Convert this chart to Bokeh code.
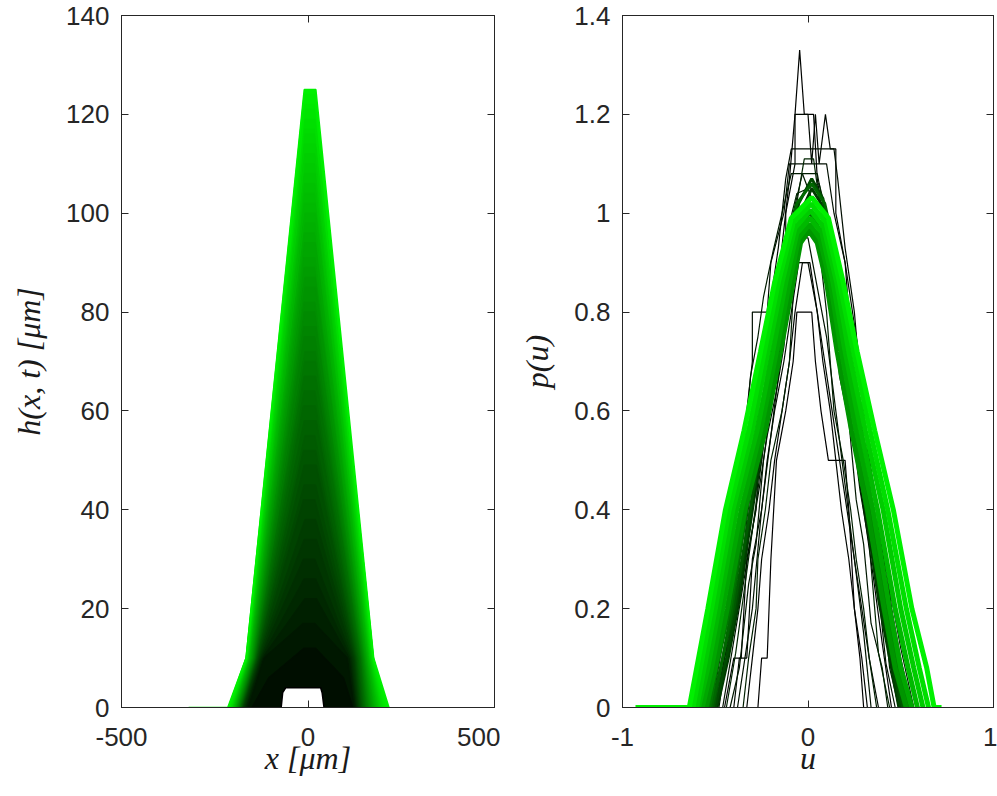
from bokeh.plotting import figure
from bokeh.models import FixedTicker, LinearAxis, Range1d
from bokeh.layouts import row
from bokeh.embed import file_html
from bokeh.resources import INLINE

# ---------------- Left panel: h(x,t) profiles, one per time (black -> green)
peak_h = [4, 12, 17, 22, 26, 30, 34, 38, 42, 45, 49, 52, 55, 58, 61, 64, 67, 70, 72, 75,
          77, 80, 82, 85, 87, 89, 91, 94, 96, 98, 100, 102, 104, 106, 108, 110, 112, 114,
          116, 117, 119, 121, 122, 124, 125]
knee_h = [3, 6] + [10] * 43
foot_l = [-72, -150, -160, -165, -168, -170, -172, -174, -176, -177, -178, -179, -180, -181,
          -182, -183, -184, -185, -186, -187, -188, -189, -190, -191, -192, -193, -194, -195,
          -196, -197, -198, -199, -200, -201, -202, -203, -204, -205, -206, -207, -208, -210,
          -211, -213, -215]
knee_l = [-68, -105, -118, -122, -125, -128, -130, -132, -134, -136, -137, -139, -140, -141,
          -142, -143, -144, -145, -146, -147, -148, -149, -150, -151, -152, -153, -154, -155,
          -156, -157, -158, -159, -160, -160, -161, -161, -162, -163, -163, -164, -164, -165,
          -165, -166, -166]
top_l = [-60, -10, -12, -8, -10, -12, -10, -8, -12, -10, -10, -12, -8, -10, -12, -10, -10,
         -12, -8, -10, -12, -10, -10, -12, -8, -10, -12, -10, -10, -12, -8, -10, -12, -10,
         -10, -12, -8, -10, -12, -10, -10, -12, -8, -10, -10]
top_r = [34, 20, 18, 22, 20, 18, 22, 20, 18, 20, 22, 20, 18, 22, 20, 18, 20, 22, 20, 18,
         22, 20, 18, 20, 22, 20, 18, 22, 20, 18, 20, 22, 20, 18, 22, 20, 18, 20, 22, 20,
         18, 22, 20, 18, 21]
knee_r = [38, 95, 105, 110, 114, 117, 120, 123, 126, 128, 130, 132, 134, 136, 138, 140, 142,
          144, 145, 147, 148, 150, 151, 153, 154, 155, 157, 158, 160, 161, 162, 164, 165,
          166, 167, 168, 169, 170, 171, 172, 173, 174, 175, 175, 176]
foot_r = [43, 120, 124, 127, 130, 132, 134, 136, 138, 140, 142, 144, 146, 148, 150, 152, 154,
          156, 158, 160, 162, 164, 166, 168, 170, 172, 174, 176, 178, 180, 182, 184, 186,
          188, 190, 192, 194, 196, 198, 200, 202, 205, 208, 212, 217]
flat_start_x = -320   # zero level drawn by the last profile

# ---------------- Right panel: rescaled profiles p(u)
u_black = [
    [-0.27, -0.25, -0.22, -0.2, -0.17, -0.12, -0.08, -0.06, 0.02, 0.04, 0.07, 0.11, 0.2, 0.22, 0.25, 0.28, 0.3],
    [-0.45, -0.4, -0.36, -0.33, -0.28, -0.25, -0.2, -0.15, -0.1, -0.07, -0.045, -0.02, 0.03, 0.05, 0.1, 0.14, 0.2, 0.25, 0.3, 0.35, 0.4, 0.45],
    [-0.33, -0.3, -0.27, -0.25, -0.21, -0.18, -0.14, -0.1, -0.07, -0.03, 0.01, 0.05, 0.08, 0.12, 0.15, 0.18, 0.22, 0.25, 0.29, 0.32],
    [-0.5, -0.45, -0.38, -0.3, -0.26, -0.2, -0.16, -0.12, -0.12, -0.07, -0.07, 0.0, 0.02, 0.04, 0.06, 0.094, 0.12, 0.15, 0.15, 0.2, 0.22, 0.27, 0.32, 0.35, 0.38, 0.42, 0.48, 0.52],
    [-0.4, -0.37, -0.33, -0.3, -0.25, -0.22, -0.18, -0.13, -0.09, -0.05, 0.0, 0.05, 0.09, 0.13, 0.17, 0.21, 0.25, 0.29, 0.33, 0.38],
    [-0.52, -0.46, -0.4, -0.33, -0.3, -0.25, -0.21, -0.16, -0.12, -0.09, 0.14, 0.16, 0.2, 0.25, 0.28, 0.32, 0.37, 0.42, 0.48, 0.55],
    [-0.56, -0.5, -0.46, -0.4, -0.36, -0.33, -0.3, -0.3, -0.22, -0.2, -0.13, -0.1, 0.1, 0.14, 0.2, 0.24, 0.28, 0.3, 0.33, 0.38, 0.42, 0.45, 0.5, 0.56],
    [-0.38, -0.34, -0.3, -0.25, -0.2, -0.15, -0.1, -0.05, 0.0, 0.05, 0.1, 0.15, 0.2, 0.25, 0.3, 0.34],
    [-0.46, -0.42, -0.38, -0.34, -0.3, -0.26, -0.22, -0.17, -0.13, -0.08, -0.02, 0.04, 0.1, 0.14, 0.19, 0.23, 0.28, 0.32, 0.37, 0.42, 0.47],
    [-0.42, -0.37, -0.32, -0.28, -0.24, -0.18, -0.14, -0.1, -0.04, 0.04, 0.08, 0.13, 0.17, 0.22, 0.26, 0.3, 0.34, 0.4, 0.43],
    [-0.58, -0.52, -0.47, -0.43, -0.38, -0.35, -0.31, -0.27, -0.24, -0.19, -0.14, -0.09, -0.03, 0.05, 0.11, 0.16, 0.21, 0.25, 0.29, 0.34, 0.39, 0.44, 0.5, 0.57],
    [-0.48, -0.42, -0.37, -0.33, -0.27, -0.23, -0.18, -0.14, -0.08, -0.03, 0.05, 0.09, 0.14, 0.18, 0.22, 0.27, 0.31, 0.36, 0.4, 0.44, 0.49],
    [-0.35, -0.32, -0.28, -0.27, -0.23, -0.2, -0.14, -0.1, -0.07, -0.04, 0.04, 0.07, 0.1, 0.14, 0.19, 0.23, 0.26, 0.3, 0.33, 0.37],
    [-0.5, -0.45, -0.4, -0.35, -0.3, -0.25, -0.22, -0.16, -0.11, -0.06, -0.01, 0.04, 0.09, 0.14, 0.18, 0.22, 0.27, 0.32, 0.37, 0.42, 0.47, 0.51],
    [-0.44, -0.39, -0.35, -0.31, -0.27, -0.23, -0.19, -0.15, -0.11, -0.07, -0.02, 0.03, 0.07, 0.11, 0.15, 0.2, 0.24, 0.28, 0.33, 0.38, 0.44],
    [-0.54, -0.48, -0.42, -0.36, -0.31, -0.26, -0.22, -0.17, -0.12, -0.06, 0.06, 0.12, 0.17, 0.23, 0.28, 0.33, 0.38, 0.44, 0.5, 0.57],
]
p_black = [
    [0, 0.1, 0.1, 0.3, 0.5, 0.6, 0.7, 0.8, 0.8, 0.7, 0.6, 0.5, 0.5, 0.4, 0.2, 0.1, 0],
    [0, 0.1, 0.1, 0.3, 0.4, 0.6, 0.7, 0.9, 1.07, 1.2, 1.33, 1.2, 1.2, 1.07, 0.93, 0.8, 0.67, 0.53, 0.4, 0.27, 0.13, 0],
    [0, 0.1, 0.2, 0.3, 0.4, 0.5, 0.6, 0.7, 0.8, 0.9, 0.9, 0.8, 0.7, 0.6, 0.5, 0.4, 0.3, 0.2, 0.1, 0],
    [0, 0.1, 0.2, 0.4, 0.5, 0.7, 0.8, 0.9, 1.0, 1.1, 1.2, 1.2, 1.1, 1.2, 1.1, 1.2, 1.13, 1.13, 1.0, 0.9, 0.8, 0.6, 0.5, 0.4, 0.3, 0.2, 0.1, 0],
    [0, 0.1, 0.1, 0.3, 0.4, 0.5, 0.6, 0.7, 0.8, 0.9, 0.9, 0.8, 0.7, 0.6, 0.5, 0.4, 0.3, 0.2, 0.1, 0],
    [0, 0.13, 0.27, 0.4, 0.53, 0.67, 0.8, 0.93, 1.07, 1.13, 1.13, 1.07, 0.93, 0.8, 0.67, 0.53, 0.4, 0.27, 0.13, 0],
    [0, 0.1, 0.2, 0.4, 0.5, 0.6, 0.7, 0.8, 0.8, 0.9, 1.0, 1.1, 1.1, 1.0, 0.9, 0.8, 0.7, 0.6, 0.5, 0.4, 0.3, 0.2, 0.1, 0],
    [0, 0.1, 0.2, 0.4, 0.55, 0.7, 0.85, 0.95, 0.95, 0.85, 0.75, 0.6, 0.45, 0.3, 0.15, 0],
    [0, 0.09, 0.18, 0.27, 0.36, 0.45, 0.55, 0.64, 0.73, 0.91, 1.0, 1.0, 0.91, 0.82, 0.73, 0.64, 0.45, 0.36, 0.27, 0.09, 0],
    [0, 0.08, 0.25, 0.33, 0.5, 0.67, 0.75, 0.92, 1.0, 1.0, 0.92, 0.83, 0.67, 0.58, 0.42, 0.33, 0.17, 0.08, 0],
    [0, 0.08, 0.17, 0.25, 0.42, 0.5, 0.67, 0.75, 0.83, 0.92, 1.0, 1.08, 1.08, 1.0, 0.92, 0.83, 0.75, 0.67, 0.58, 0.42, 0.33, 0.17, 0.08, 0],
    [0, 0.15, 0.23, 0.38, 0.54, 0.62, 0.77, 0.92, 1.0, 1.08, 1.08, 1.0, 0.92, 0.85, 0.69, 0.54, 0.46, 0.31, 0.23, 0.08, 0],
    [0, 0.1, 0.2, 0.3, 0.4, 0.5, 0.6, 0.7, 0.9, 1.0, 1.0, 0.9, 0.8, 0.6, 0.5, 0.4, 0.3, 0.2, 0.1, 0],
    [0, 0.1, 0.2, 0.3, 0.4, 0.5, 0.6, 0.7, 0.8, 0.9, 1.0, 1.0, 0.9, 0.9, 0.8, 0.7, 0.6, 0.5, 0.4, 0.2, 0.1, 0],
    [0, 0.11, 0.22, 0.33, 0.44, 0.56, 0.67, 0.78, 0.89, 1.0, 1.11, 1.11, 1.0, 0.89, 0.78, 0.67, 0.56, 0.44, 0.33, 0.11, 0],
    [0, 0.1, 0.2, 0.35, 0.5, 0.62, 0.74, 0.86, 0.95, 1.04, 1.06, 0.97, 0.87, 0.74, 0.62, 0.5, 0.37, 0.24, 0.12, 0],
]
u_dark = [
    [-0.49, -0.43, -0.37, -0.3, -0.22, -0.15, -0.09, -0.04, 0.02, 0.07, 0.12, 0.18, 0.24, 0.31, 0.38, 0.44, 0.49],
    [-0.5, -0.44, -0.39, -0.31, -0.23, -0.16, -0.1, -0.05, 0.02, 0.08, 0.13, 0.19, 0.25, 0.32, 0.4, 0.45, 0.5],
    [-0.51, -0.46, -0.4, -0.32, -0.24, -0.17, -0.1, -0.04, 0.01, 0.06, 0.12, 0.19, 0.26, 0.33, 0.41, 0.46, 0.51],
    [-0.52, -0.46, -0.41, -0.33, -0.25, -0.18, -0.12, -0.06, 0.02, 0.09, 0.15, 0.21, 0.27, 0.34, 0.42, 0.47, 0.52],
    [-0.53, -0.48, -0.42, -0.34, -0.26, -0.19, -0.12, -0.05, 0.01, 0.07, 0.13, 0.2, 0.27, 0.34, 0.42, 0.48, 0.53],
    [-0.54, -0.49, -0.43, -0.35, -0.27, -0.19, -0.11, -0.04, 0.0, 0.05, 0.12, 0.19, 0.26, 0.34, 0.42, 0.48, 0.54],
]
p_dark = [
    [0, 0.1, 0.22, 0.4, 0.6, 0.77, 0.9, 1.0, 1.05, 1.02, 0.93, 0.78, 0.6, 0.4, 0.22, 0.1, 0],
    [0, 0.1, 0.2, 0.4, 0.6, 0.78, 0.92, 1.02, 1.07, 1.03, 0.93, 0.78, 0.6, 0.4, 0.2, 0.1, 0],
    [0, 0.1, 0.2, 0.38, 0.57, 0.74, 0.88, 0.97, 1.0, 0.97, 0.89, 0.74, 0.57, 0.38, 0.2, 0.1, 0],
    [0, 0.1, 0.2, 0.4, 0.6, 0.78, 0.92, 1.02, 1.06, 1.02, 0.92, 0.78, 0.6, 0.4, 0.2, 0.1, 0],
    [0, 0.1, 0.2, 0.38, 0.56, 0.74, 0.88, 0.98, 1.0, 0.98, 0.9, 0.74, 0.56, 0.38, 0.2, 0.1, 0],
    [0, 0.1, 0.2, 0.38, 0.55, 0.72, 0.87, 0.95, 0.97, 0.95, 0.87, 0.72, 0.55, 0.38, 0.2, 0.1, 0],
]
u_green = [
    [-0.55, -0.5, -0.436, -0.34, -0.23, -0.148, -0.08, -0.04, 0.005, 0.05, 0.1, 0.157, 0.235, 0.32, 0.41, 0.47, 0.53],
    [-0.57, -0.52, -0.46, -0.36, -0.255, -0.17, -0.1, -0.05, 0.008, 0.063, 0.12, 0.18, 0.26, 0.35, 0.44, 0.5, 0.56],
    [-0.59, -0.54, -0.48, -0.385, -0.275, -0.19, -0.12, -0.06, 0.011, 0.075, 0.135, 0.2, 0.285, 0.375, 0.47, 0.54, 0.59],
    [-0.6, -0.56, -0.5, -0.405, -0.3, -0.215, -0.14, -0.07, 0.014, 0.086, 0.155, 0.22, 0.31, 0.405, 0.5, 0.57, 0.62],
    [-0.62, -0.58, -0.52, -0.425, -0.32, -0.235, -0.16, -0.08, 0.017, 0.098, 0.17, 0.245, 0.335, 0.43, 0.53, 0.6, 0.65],
    [-0.93, -0.64, -0.6, -0.54, -0.445, -0.345, -0.256, -0.18, -0.09, 0.02, 0.11, 0.19, 0.265, 0.36, 0.46, 0.56, 0.64, 0.68, 0.72],
]
p_green = [
    [0, 0.08, 0.2, 0.4, 0.56, 0.72, 0.86, 0.94, 0.965, 0.94, 0.86, 0.72, 0.56, 0.4, 0.2, 0.08, 0],
    [0, 0.08, 0.2, 0.4, 0.56, 0.72, 0.86, 0.95, 0.978, 0.95, 0.86, 0.72, 0.56, 0.4, 0.2, 0.08, 0],
    [0, 0.08, 0.2, 0.4, 0.56, 0.72, 0.86, 0.96, 0.99, 0.96, 0.86, 0.72, 0.56, 0.4, 0.2, 0.08, 0],
    [0, 0.08, 0.2, 0.4, 0.56, 0.72, 0.86, 0.97, 1.006, 0.97, 0.86, 0.72, 0.56, 0.4, 0.2, 0.08, 0],
    [0, 0.08, 0.2, 0.4, 0.56, 0.72, 0.86, 0.98, 1.019, 0.98, 0.86, 0.72, 0.56, 0.4, 0.2, 0.08, 0],
    [0, 0, 0.08, 0.2, 0.4, 0.56, 0.72, 0.86, 0.99, 1.032, 0.99, 0.86, 0.72, 0.56, 0.4, 0.2, 0.08, 0, 0],
]

# ---------------- Axes
left_xticks = [-500, 0, 500]
left_xlabels = ["-500", "0", "500"]
left_yticks = [0, 20, 40, 60, 80, 100, 120, 140]
right_xticks = [-1, 0, 1]
right_xlabels = ["-1", "0", "1"]
right_yticks = [0, 0.2, 0.4, 0.6, 0.8, 1, 1.2, 1.4]
right_ylabels = ["0", "0.2", "0.4", "0.6", "0.8", "1", "1.2", "1.4"]

AX = "#262626"
TICK_FONT = "Liberation Sans"
LABEL_FONT = "Liberation Serif"
FIG_H = 792


def green(frac, gmax=240):
    g = int(round(gmax * frac))
    return "#%02x%02x%02x" % (0, g, 0)


def make_fig(width, lb, rb, xr, yr, xticks, yticks, xlabel, ylabel, xover, yover=None):
    p = figure(width=width, height=FIG_H, x_range=Range1d(*xr), y_range=Range1d(*yr),
               output_backend="svg", toolbar_location=None,
               min_border_left=lb, min_border_right=rb, min_border_top=15, min_border_bottom=85)
    p.grid.visible = False
    p.outline_line_color = AX
    p.outline_line_width = 1
    p.background_fill_color = "white"
    p.border_fill_color = "white"
    xa = p.xaxis[0]
    ya = p.yaxis[0]
    xa.ticker = FixedTicker(ticks=xticks)
    ya.ticker = FixedTicker(ticks=yticks)
    xa.major_label_overrides = xover
    if yover:
        ya.major_label_overrides = yover
    for ax in (xa, ya):
        ax.axis_line_color = AX
        ax.major_tick_line_color = AX
        ax.major_tick_in = 7
        ax.major_tick_out = 0
        ax.minor_tick_line_color = None
        ax.major_label_text_font = TICK_FONT
        ax.major_label_text_font_size = "26px"
        ax.major_label_text_color = AX
        ax.axis_label_text_font = LABEL_FONT
        ax.axis_label_text_font_style = "italic"
        ax.axis_label_text_font_size = "32px"
        ax.axis_label_text_color = "#1a1a1a"
    xa.axis_label = xlabel
    ya.axis_label = ylabel
    xa.major_label_standoff = 20
    ya.major_label_standoff = 12
    xa.axis_label_standoff = -9
    ya.axis_label_standoff = 16
    for side, tk in (("above", xticks), ("right", yticks)):
        ax2 = LinearAxis(ticker=FixedTicker(ticks=tk), major_label_text_font_size="0px",
                         major_label_standoff=0, major_tick_in=7, major_tick_out=0,
                         minor_tick_line_color=None, axis_line_color=AX,
                         major_tick_line_color=AX, major_label_text_color=None)
        p.add_layout(ax2, side)
    return p


# Left figure
p1 = make_fig(500, 121, 6, (-500, 500), (0, 140), left_xticks, left_yticks,
              "x [μm]", "h(x, t) [μm]", dict(zip(left_xticks, left_xlabels)))
n = len(peak_h)
xs, ys, cols, fills = [], [], [], []
for k in range(n):
    x = [foot_l[k], knee_l[k], top_l[k], top_r[k], knee_r[k], foot_r[k]]
    y = [0, knee_h[k], peak_h[k], peak_h[k], knee_h[k], 0]
    if k == n - 1:
        x = [flat_start_x] + x
        y = [0] + y
    xs.append(x)
    ys.append(y)
    c = green((k / (n - 1)) ** 0.75)
    cols.append(c)
    fills.append(c if k > 0 else "#ffffff")
# densely packed profiles: shade the band between successive profiles (outermost first)
p1.patches(xs=xs[::-1], ys=ys[::-1], fill_color=fills[::-1], fill_alpha=1.0,
           line_color=None)
p1.multi_line(xs=xs, ys=ys, line_color=cols, line_width=1.6)

# Right figure
p2 = make_fig(497, 122, 4, (-1, 1), (0, 1.4), right_xticks, right_yticks,
              "u", "p(u)", dict(zip(right_xticks, right_xlabels)),
              yover=dict(zip(right_yticks, right_ylabels)))
nb, nd, ng = len(u_black), len(u_dark), len(u_green)
p2.multi_line(xs=u_black, ys=p_black,
              line_color=[green(0.16 * i / (nb - 1)) for i in range(nb)], line_width=1.2)
p2.multi_line(xs=u_dark, ys=p_dark,
              line_color=[green(0.25 + 0.3 * i / (nd - 1)) for i in range(nd)], line_width=3.0)
p2.multi_line(xs=u_green, ys=p_green,
              line_color=[green(0.62 + 0.38 * i / (ng - 1)) for i in range(ng)], line_width=5.0)

layout = row(p1, p2)
open("out.html", "w").write(file_html(layout, INLINE))
